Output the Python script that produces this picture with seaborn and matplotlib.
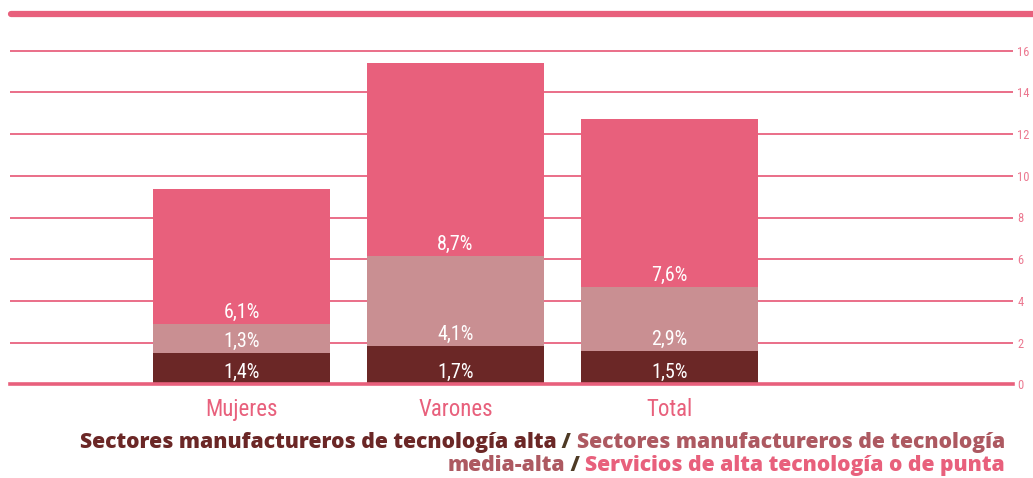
import matplotlib
matplotlib.use("Agg")
import matplotlib.pyplot as plt
from matplotlib.lines import Line2D
from matplotlib import font_manager
import seaborn as sns
import pandas as pd
import numpy as np

# ---- data ----
categories = ["Mujeres", "Varones", "Total"]
alta = [1.50, 1.84, 1.60]          # bar heights as drawn
media_alta = [1.39, 4.33, 3.07]
servicios = [6.47, 9.24, 8.06]
alta_labels = ["1,4%", "1,7%", "1,5%"]
media_alta_labels = ["1,3%", "4,1%", "2,9%"]
servicios_labels = ["6,1%", "8,7%", "7,6%"]
yticks = [0, 2, 4, 6, 8, 10, 12, 14, 16]

DARK = "#6B2726"
MID = "#C98F92"
PINK = "#E8607C"
GRID = "#EA6E88"
LEG_MID = "#AD5961"
SLASH = "#4E3A25"

sns.set_theme(style="white")

# pick a condensed font if one is available
fonts = font_manager.fontManager.ttflist
names = {f.name for f in fonts}
cond_props = None
for cand in ["Liberation Sans Narrow", "Roboto Condensed", "Open Sans Condensed",
             "Noto Sans Condensed", "DejaVu Sans Condensed"]:
    if cand in names:
        cond_props = dict(family=[cand, "DejaVu Sans"])
        break
if cond_props is None:
    stretched = [f for f in fonts if f.name in ("DejaVu Sans", "Noto Sans", "Roboto", "Open Sans")
                 and str(f.stretch) in ("condensed", "semi-condensed", "extra-condensed", "75", "87.5", "62.5")]
    if stretched:
        cond_props = dict(family=[stretched[0].name, "DejaVu Sans"], stretch=stretched[0].stretch)
    elif "Roboto" in names:
        cond_props = dict(family=["Roboto", "DejaVu Sans"])
    else:
        cond_props = dict(family=["DejaVu Sans"])

plt.rcParams["font.family"] = cond_props["family"]
if "stretch" in cond_props:
    plt.rcParams["font.stretch"] = cond_props["stretch"]

fig = plt.figure(figsize=(10.33, 4.78), dpi=100)
W, H = 1033, 478
ax = fig.add_axes([10 / W, (H - 384.3) / H, 1003 / W, 370.3 / H])

df = pd.DataFrame({"cat": categories, "a": alta, "m": media_alta, "s": servicios})
df["c1"] = df["a"]
df["c2"] = df["a"] + df["m"]
df["c3"] = df["c2"] + df["s"]

bw = 177 / 214
for col, colr in [("c3", PINK), ("c2", MID), ("c1", DARK)]:
    sns.barplot(data=df, x="cat", y=col, color=colr, saturation=1, width=bw,
                errorbar=None, linewidth=0, ax=ax, order=categories)

ax.set_xlim(-231.5 / 214, 2 + (1013 - 669.5) / 214)
ax.set_ylim(0, (384.3 - 14) / 20.85)

# grid
ax.set_yticks(yticks)
ax.yaxis.grid(True, color=GRID, lw=1.4)
ax.set_axisbelow(True)
ax.yaxis.tick_right()
ax.tick_params(axis="y", length=0, pad=3, labelsize=9, labelcolor="#EC7890")
ax.tick_params(axis="x", length=0, pad=10, labelsize=16.5, labelcolor=PINK)
ax.set_xlabel("")
ax.set_ylabel("")
for s in ["top", "left", "right"]:
    ax.spines[s].set_visible(False)
ax.spines["bottom"].set_color(PINK)
ax.spines["bottom"].set_linewidth(2.6)
ax.spines["bottom"].set_zorder(5)

# value labels
bottoms = [np.zeros(3), df["c1"].values, df["c2"].values]
for labs, bot in zip([alta_labels, media_alta_labels, servicios_labels], bottoms):
    for i, (lab, b) in enumerate(zip(labs, bot)):
        ax.annotate(lab, xy=(i, b), xytext=(0, 4.4), textcoords="offset points",
                    ha="center", va="baseline", color="white", fontsize=14.5,
                    zorder=6)

# top thick line
fig.add_artist(Line2D([11 / W, 1.0], [(H - 14) / H] * 2, color=PINK, lw=4.5,
                      transform=fig.transFigure))

# legend text (multi-coloured, right aligned)
fig.canvas.draw()
renderer = fig.canvas.get_renderer()
legfam = ["Open Sans", "Lato", "DejaVu Sans"]
line1 = [("Sectores manufactureros de tecnología alta", DARK),
         (" / ", SLASH),
         ("Sectores manufactureros de tecnología", LEG_MID)]
line2 = [("media-alta", LEG_MID),
         (" / ", SLASH),
         ("Servicios de alta tecnología o de punta", PINK)]

# fit the first line to the reference width (~927 px)
probe = fig.text(0, 0, "".join(p[0] for p in line1), family=legfam, weight=800,
                 fontsize=15)
pw = probe.get_window_extent(renderer=renderer).width
probe.remove()
legsize = 15 * 927 / pw
legfont = dict(family=legfam, weight=800, fontsize=legsize)

def right_line(pieces, x_px, y_px):
    x = x_px
    for txt, col in reversed(pieces):
        t = fig.text(x / W, (H - y_px) / H, txt, color=col, ha="right",
                     va="baseline", **legfont)
        bb = t.get_window_extent(renderer=renderer)
        x -= bb.width

right_line(line1, 1005, 448)
right_line(line2, 1005, 471)

fig.savefig("out.png", dpi=100)
